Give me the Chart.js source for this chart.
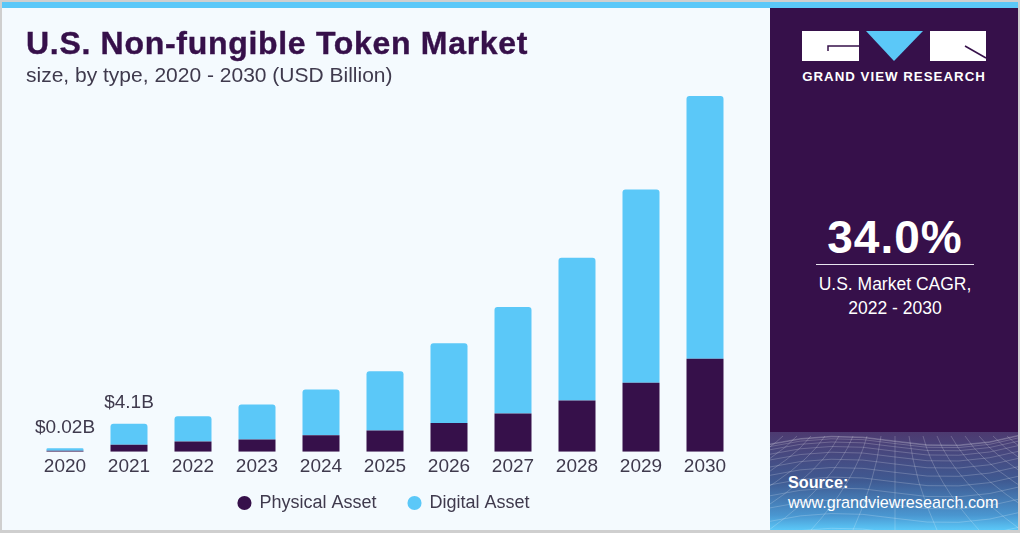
<!DOCTYPE html>
<html>
<head>
<meta charset="utf-8">
<style>
    html, body { margin: 0; padding: 0; }
    body { width: 1020px; height: 533px; position: relative; overflow: hidden; background: #cfcfcf; font-family: 'Liberation Sans', sans-serif; }
    #main { position: absolute; left: 2px; top: 2px; width: 1016px; height: 528px; background: #f4fafe; }
    #topBar { position: absolute; left: 2px; top: 2px; width: 1016px; height: 6px; background: #5bc8f8; }
    #chartBox { position: absolute; left: 0; top: 0; width: 770px; height: 533px; }
    #title { position: absolute; left: 26px; top: 25px; font-size: 32px; line-height: 36px; font-weight: bold; color: #36104a; letter-spacing: 0.7px; white-space: nowrap; -webkit-text-stroke: 0.4px #36104a; }
    #subtitle { position: absolute; left: 26px; top: 63px; font-size: 21px; line-height: 24px; color: #3f3a4d; white-space: nowrap; }
    #side { position: absolute; left: 770px; top: 8px; width: 248px; height: 522px; background: #36104a; overflow: hidden; }
    #mesh { position: absolute; left: 0; top: 424px; }
    .sideText { position: absolute; left: 0; width: 250px; text-align: center; color: #fff; white-space: nowrap; }
    #cagr { top: 202px; font-size: 46px; line-height: 54px; font-weight: bold; letter-spacing: 1px; left: 0; }
    #rule { position: absolute; left: 46px; top: 256px; width: 158px; height: 1px; background: #e8e4ee; }
    #cagrLabel { top: 264px; font-size: 17.5px; line-height: 24px; }
    #brand { top: 60px; font-size: 13.3px; line-height: 18px; font-weight: bold; letter-spacing: 1px; left: -1px; }
    #source { position: absolute; left: 18px; top: 464px; color: #fff; font-size: 16.2px; line-height: 20px; font-weight: bold; white-space: nowrap; }
    #source span { font-weight: normal; }
</style>
</head>
<body>
<div id="main"></div>
<div id="topBar"></div>
<div id="chartBox"><canvas id="tokenChart" width="770" height="533"></canvas></div>
<div id="title">U.S. Non-fungible Token Market</div>
<div id="subtitle">size, by type, 2020 - 2030 (USD Billion)</div>
<div id="side">
    <svg id="mesh" width="250" height="98"></svg>
    <svg style="position:absolute;left:0;top:0" width="250" height="60">
        <rect x="32" y="23" width="57" height="30" fill="#fff"/>
        <path d="M89 38H58v5" fill="none" stroke="#36104a" stroke-width="1.5"/>
        <polygon points="96,23 153,23 124,53" fill="#5bc8f8"/>
        <rect x="160" y="23" width="56" height="30" fill="#fff"/>
        <path d="M216 50L195 38" fill="none" stroke="#36104a" stroke-width="1.5"/>
    </svg>
    <div class="sideText" id="brand">GRAND VIEW RESEARCH</div>
    <div class="sideText" id="cagr">34.0%</div>
    <div id="rule"></div>
    <div class="sideText" id="cagrLabel">U.S. Market CAGR,<br>2022 - 2030</div>
    <div id="source">Source:<br><span>www.grandviewresearch.com</span></div>
</div>
<script src="https://cdn.jsdelivr.net/npm/chart.js@4"></script>
<script>
class TokenMarketChart {
    constructor() {
        this.years = ['2020', '2021', '2022', '2023', '2024', '2025', '2026', '2027', '2028', '2029', '2030'];
        // USD billion
        this.physical = [0.15, 1.0, 1.5, 1.8, 2.4, 3.1, 4.2, 5.6, 7.5, 10.1, 13.6];
        this.digital = [0.35, 3.1, 3.7, 5.1, 6.7, 8.7, 11.7, 15.6, 20.9, 28.3, 38.5];
        this.labels = { 0: '$0.02B', 1: '$4.1B' };
        this.setupChart();
        this.drawMesh();
    }

    setupChart() {
        const labels = this.labels;
        const barLabels = {
            id: 'barLabels',
            afterDatasetsDraw(chart) {
                const ctx = chart.ctx;
                const meta = chart.getDatasetMeta(1);
                ctx.save();
                ctx.font = "19px 'Liberation Sans'";
                ctx.fillStyle = '#3f3a4d';
                ctx.textAlign = 'center';
                Object.keys(labels).forEach(i => {
                    const bar = meta.data[i];
                    ctx.fillText(labels[i], bar.x, bar.y - 21);
                });
                ctx.restore();
            }
        };

        // wide gap between legend items, without the legend eating into the plot height
        const legendPlacement = {
            id: 'legendPlacement',
            beforeLayout(chart) {
                const legend = chart.legend;
                if (!legend.baseFit) {
                    legend.baseFit = legend.fit;
                    legend.fit = function () {
                        this.baseFit();
                        this.height = 36;
                    };
                }
            },
            afterLayout(chart) {
                const legend = chart.legend;
                legend.top = 462;
                legend.left -= 1;
                legend.right -= 1;
            }
        };

        new Chart(document.getElementById('tokenChart'), {
            type: 'bar',
            data: {
                labels: this.years,
                datasets: [{
                    label: 'Physical Asset',
                    data: this.physical,
                    backgroundColor: '#36104a',
                    categoryPercentage: 1,
                    barPercentage: 0.578
                }, {
                    label: 'Digital Asset',
                    data: this.digital,
                    backgroundColor: '#5bc8f8',
                    borderRadius: { topLeft: 3, topRight: 3 },
                    borderSkipped: false,
                    categoryPercentage: 1,
                    barPercentage: 0.578
                }]
            },
            options: {
                responsive: false,
                animation: false,
                layout: { padding: { left: 33, right: 33, top: 96, bottom: 14.5 } },
                scales: {
                    x: {
                        stacked: true,
                        grid: { display: false, drawTicks: false },
                        border: { display: false },
                        ticks: { color: '#3f3a4d', font: { family: "'Liberation Sans'", size: 19 }, padding: 4, maxRotation: 0, autoSkip: false }
                    },
                    y: { stacked: true, display: false, min: 0, max: 52.1 }
                },
                plugins: {
                    legend: {
                        position: 'bottom',
                        labels: {
                            usePointStyle: true,
                            pointStyle: 'circle',
                            boxWidth: 12,
                            boxHeight: 10,
                            padding: 32,
                            color: '#3f3a4d',
                            font: { family: "'Liberation Sans'", size: 18 }
                        }
                    },
                    tooltip: { enabled: false }
                }
            },
            plugins: [barLabels, legendPlacement]
        });
    }

    // decorative wire mesh at the foot of the side panel
    drawMesh() {
        const svg = document.getElementById('mesh');
        let content = '<defs><linearGradient id="fade" x1="0" y1="0" x2="0" y2="1">' +
            '<stop offset="0" stop-color="#4d3a70"/><stop offset="0.5" stop-color="#3f5a92"/>' +
            '<stop offset="0.85" stop-color="#4a96d0"/><stop offset="1" stop-color="#5bc8f8"/></linearGradient></defs>' +
            '<rect width="250" height="98" fill="url(#fade)"/>';
        let paths = '';
        for (let i = 0; i < 13; i++) {
            const t = i / 12;
            const y = 6 + 92 * t * t;
            paths += `<path d="M0 ${y + 6} Q60 ${y - 8} 125 ${y + 3} T250 ${y - 3}"/>`;
        }
        for (let i = -8; i <= 8; i++) {
            const top = 125 + i * 14;
            const bottom = 125 + i * 42;
            paths += `<path d="M${top} 4 Q${top + i * 6} 50 ${bottom} 98"/>`;
        }
        content += `<g fill="none" stroke="#ffffff" stroke-opacity="0.2" stroke-width="1">${paths}</g>`;
        svg.innerHTML = content;
    }
}

new TokenMarketChart();
</script>
</body>
</html>
